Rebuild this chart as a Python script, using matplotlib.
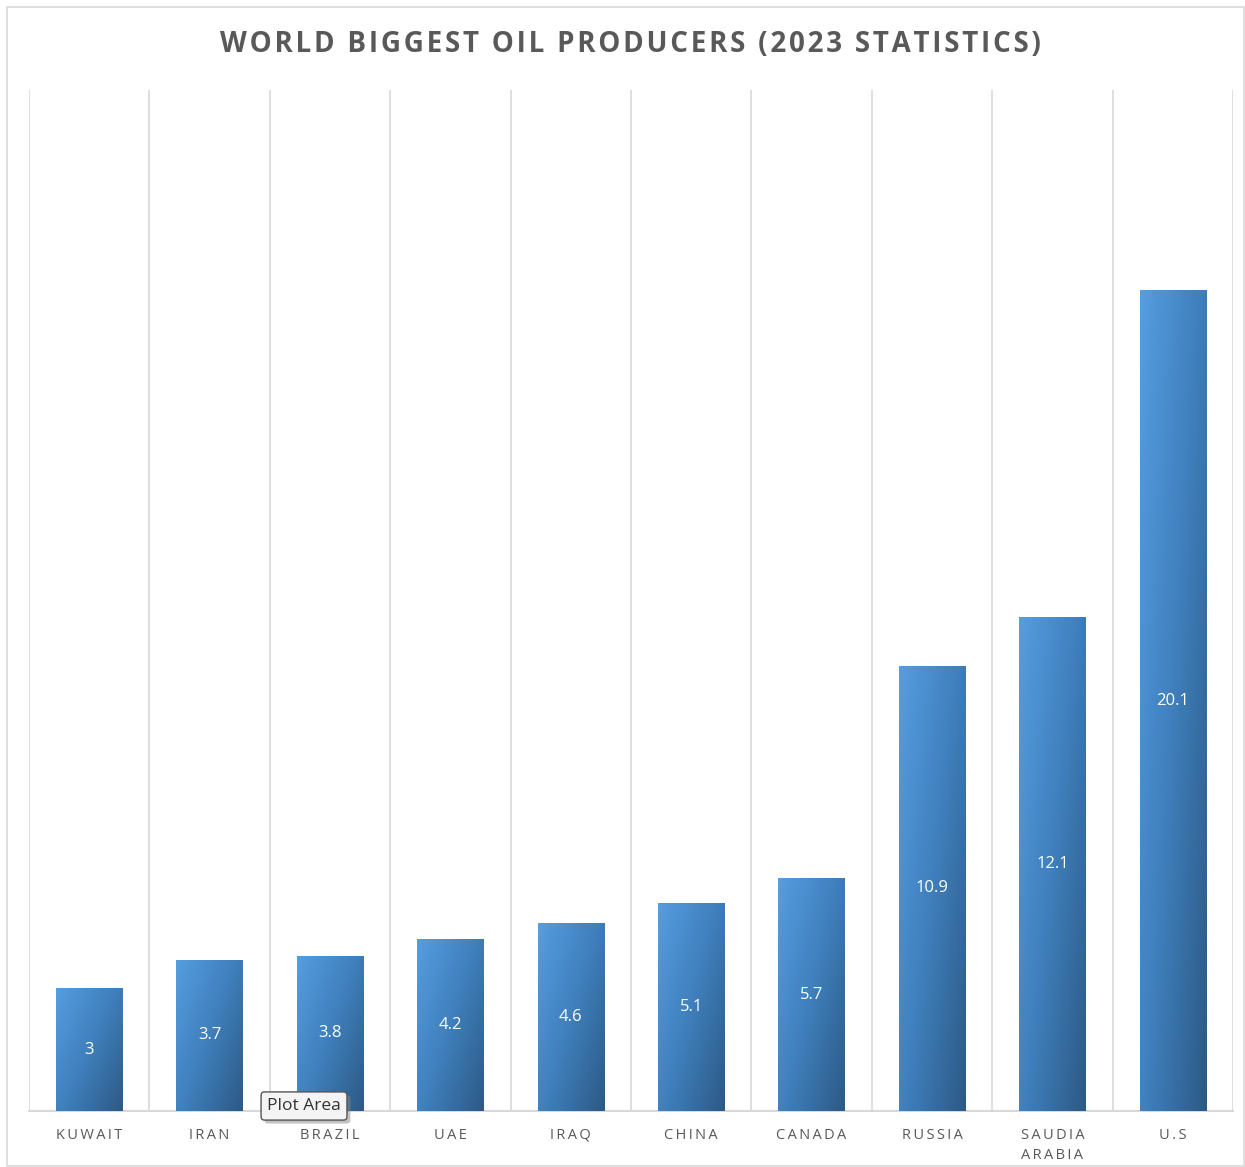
"""World biggest oil producers, 2023 - Excel-style gradient column chart."""
import matplotlib
matplotlib.use("Agg")
import matplotlib.pyplot as plt
import matplotlib.patheffects as pe
import numpy as np
from matplotlib.colors import LinearSegmentedColormap
from matplotlib.patches import Rectangle

countries = ["KUWAIT", "IRAN", "BRAZIL", "UAE", "IRAQ", "CHINA", "CANADA",
             "RUSSIA", "SAUDIA\nARABIA", "U.S"]
production = [3, 3.7, 3.8, 4.2, 4.6, 5.1, 5.7, 10.9, 12.1, 20.1]
title = "WORLD BIGGEST OIL PRODUCERS (2023 STATISTICS)"

GRAY = "#595959"
GRID = "#d9d9d9"
grad = LinearSegmentedColormap.from_list("bar", ["#559ee0", "#3f7fbc", "#2c5a85"])


def spaced(s, sep="\u2009"):
    """Fake Excel's character spacing with thin spaces."""
    return "\n".join(sep.join(line) for line in s.split("\n"))


fig = plt.figure(figsize=(12.45, 11.67), dpi=100)
fig.patch.set_facecolor("white")
fig.patches.append(Rectangle((7 / 1245, 0.001), 1 - 8 / 1245, 1 - 7 / 1167 - 0.001,
                             transform=fig.transFigure, fill=False,
                             edgecolor=GRID, lw=1.2))

ax = fig.add_axes([29 / 1245, 1 - 1111 / 1167, (1233 - 29) / 1245, (1111 - 90) / 1167])
x = np.arange(len(countries))
bars = ax.bar(x, production, width=0.55, color="none", zorder=3)

# diagonal gradient: light top-left to dark bottom-right
gy, gx = np.mgrid[0:1:200j, 0:1:60j]
g = 0.55 * gx + 0.45 * gy
for b in bars:
    x0, y0 = b.get_x(), b.get_y()
    im = ax.imshow(g, cmap=grad, aspect="auto", zorder=3, interpolation="bilinear",
                   extent=(x0, x0 + b.get_width(), y0, y0 + b.get_height()),
                   origin="upper")
    im.set_clip_path(b)

for xi, v in zip(x, production):
    ax.text(xi, v / 2, f"{v:g}", ha="center", va="center", color="white",
            fontsize=12, family=["Open Sans", "DejaVu Sans"], zorder=5)

ax.set_xlim(-0.5, len(countries) - 0.5)
ax.set_ylim(0, 25)
ax.set_yticks([])
ax.set_xticks(x)
ax.set_xticklabels([spaced(c) for c in countries], color=GRAY, fontsize=10.5,
                   family=["Open Sans", "DejaVu Sans"], linespacing=1.5)
ax.tick_params(axis="x", length=0, pad=12)
ax.set_xticks(np.arange(len(countries) + 1) - 0.5, minor=True)
ax.tick_params(axis="x", which="minor", length=0)
ax.grid(axis="x", which="minor", color=GRID, lw=1.2, zorder=0)
for s in ["top", "left", "right"]:
    ax.spines[s].set_visible(False)
ax.spines["bottom"].set_color(GRID)
ax.spines["bottom"].set_linewidth(1.5)
ax.set_axisbelow(True)

fig.text(630 / 1245, 1 - 44 / 1167, spaced(title, "\u200a"), ha="center", va="center",
         fontsize=20, fontweight="bold", color=GRAY, family=["Open Sans", "DejaVu Sans"])

# Excel hover tooltip left in the screenshot
tip = ax.annotate("Plot Area", xy=(304 / 1245, 1 - 1106 / 1167),
                  xycoords="figure fraction", ha="center", va="center",
                  fontsize=12.5, color="#333333",
                  family=["Open Sans", "DejaVu Sans"], zorder=10,
                  bbox=dict(boxstyle="round,pad=0.35,rounding_size=0.2", fc="#f4f4f4",
                            ec="#555555", lw=1.0), annotation_clip=False)
tip.get_bbox_patch().set_path_effects(
    [pe.SimplePatchShadow(offset=(2.5, -2.5), shadow_rgbFace="#888888", alpha=0.5),
     pe.Normal()])

fig.savefig("out.png", dpi=100)
